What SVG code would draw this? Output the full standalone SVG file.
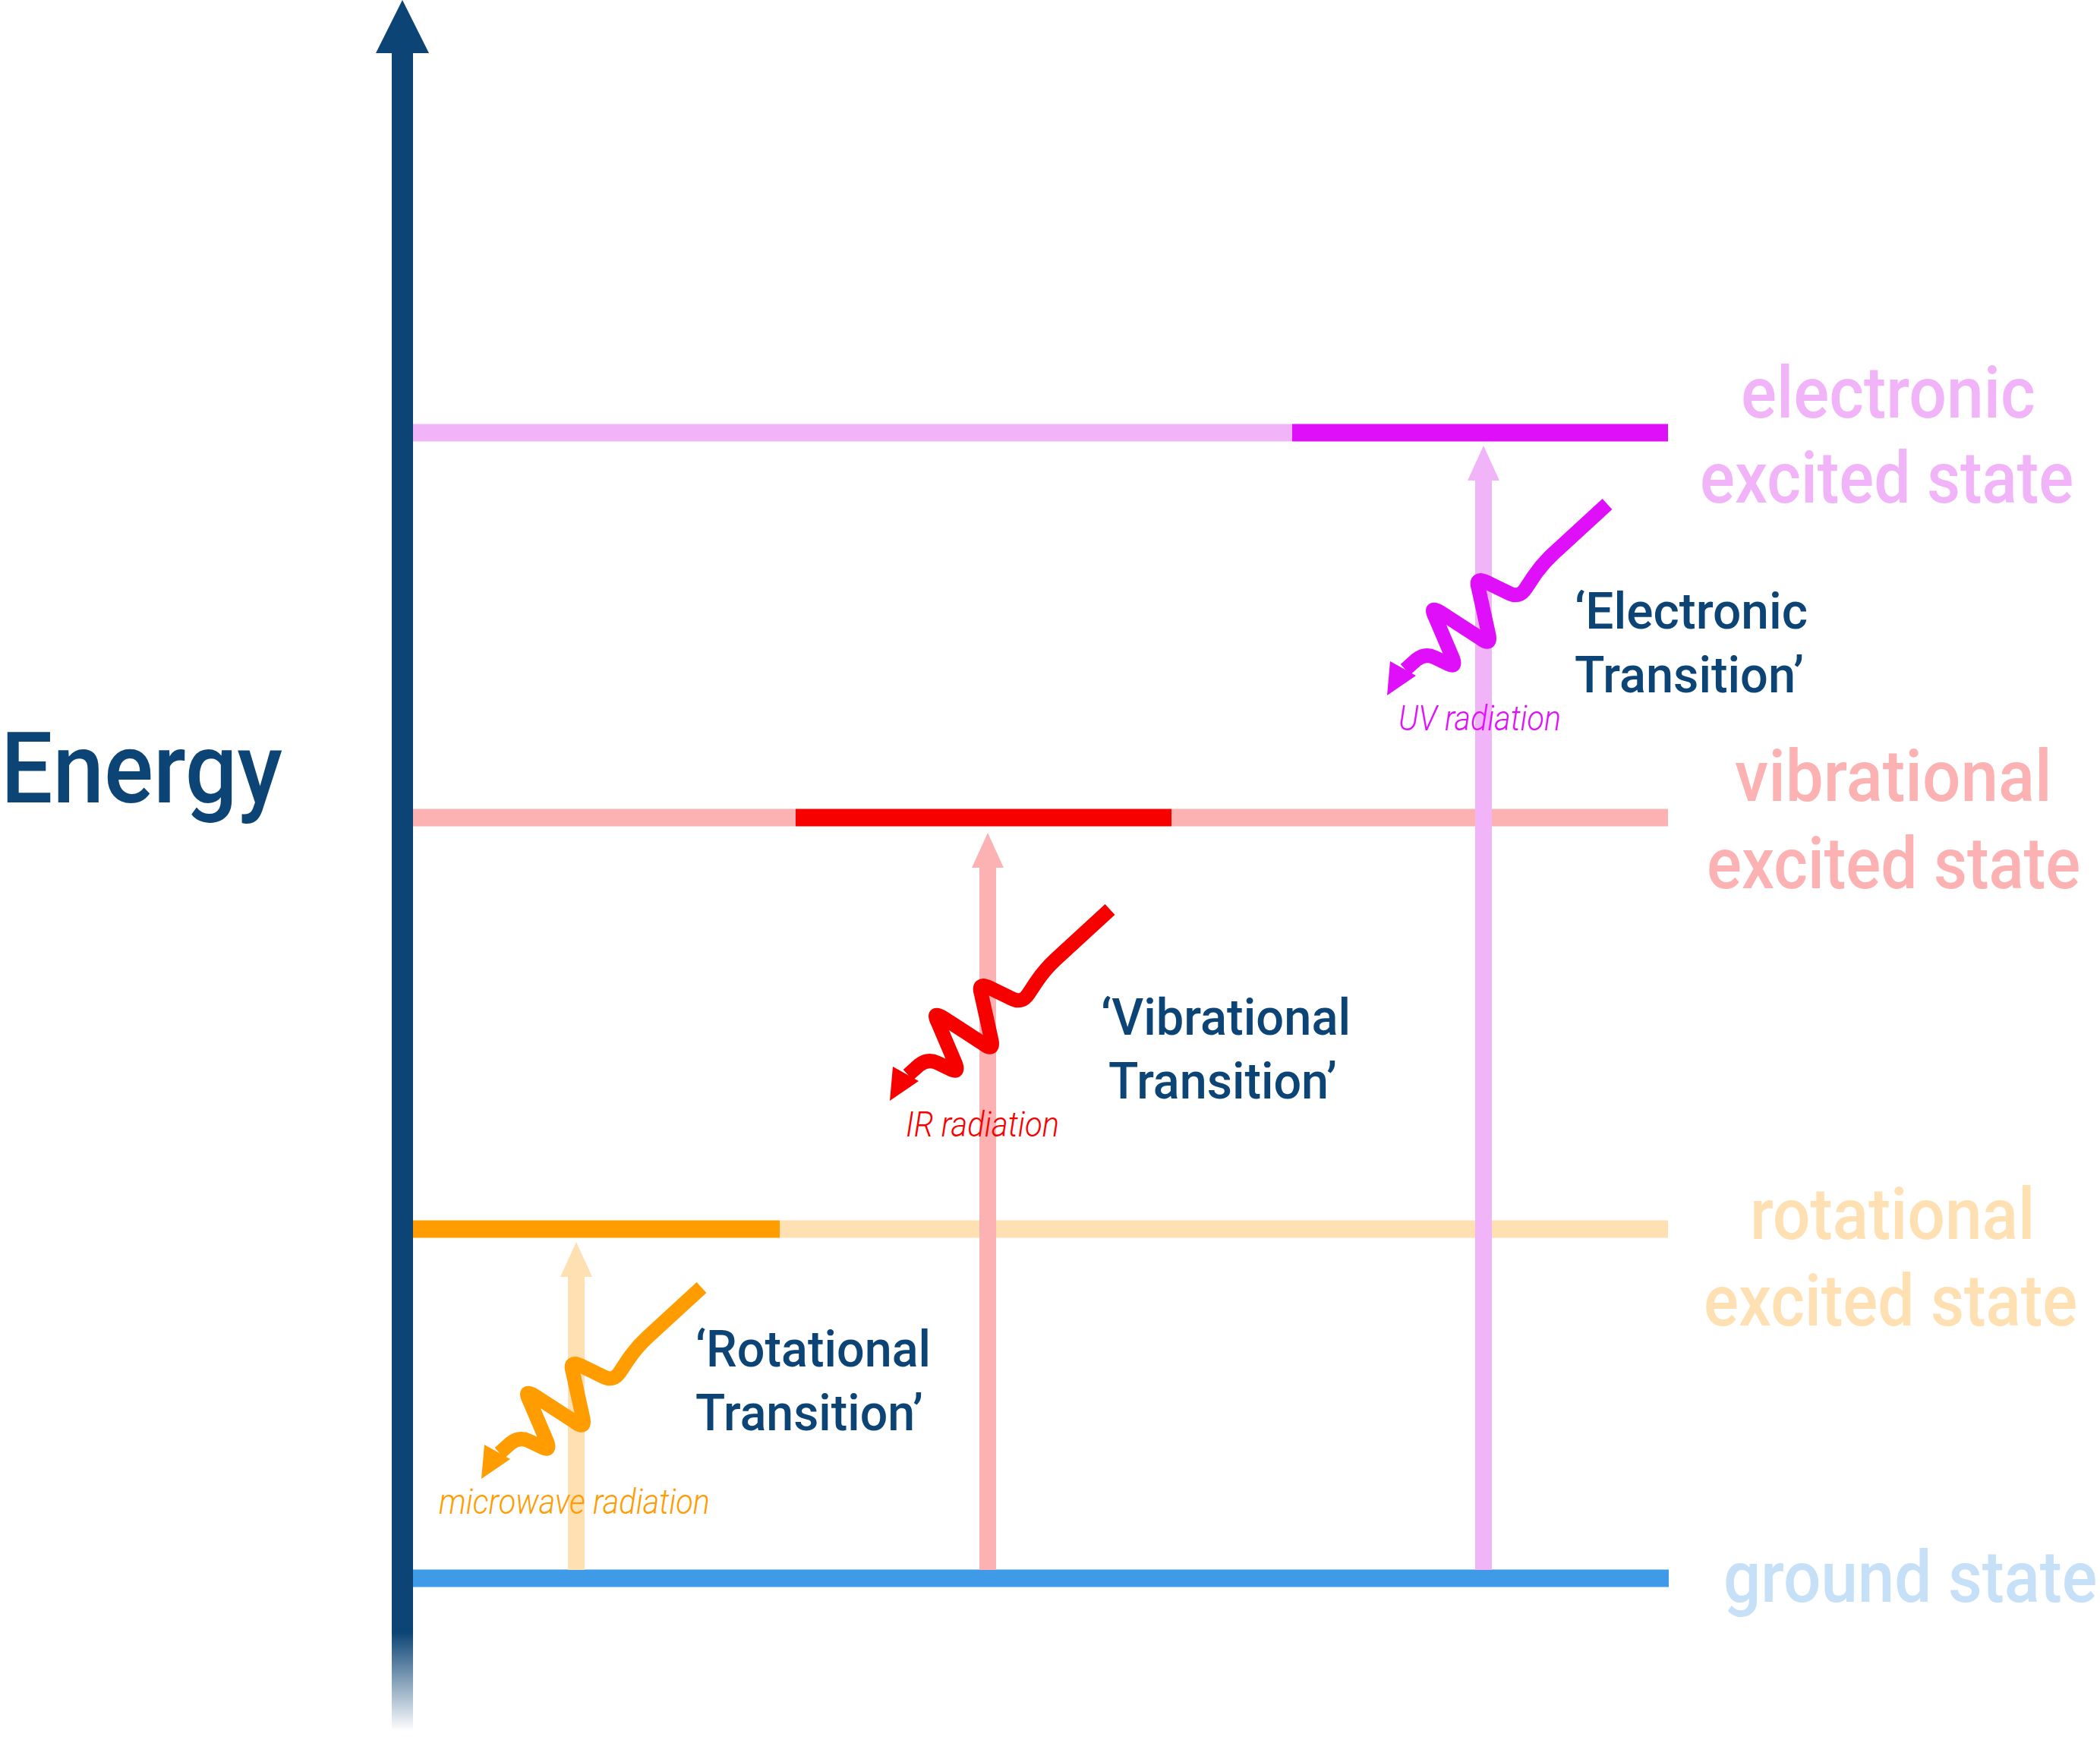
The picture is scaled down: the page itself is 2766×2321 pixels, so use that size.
<svg xmlns="http://www.w3.org/2000/svg" width="2766" height="2321" viewBox="0 0 2766 2321">
<style>
.f{font-family:Roboto,"DejaVu Sans",sans-serif}
.navy{fill:#0C4475;font-weight:500}
.lbl{font-size:66px}
.state{font-size:94px;font-weight:500}
.rad{font-size:47px;font-style:italic;font-weight:300}
.lv{stroke-width:23;fill:none}
</style>
<defs>
<linearGradient id="axisFade" gradientUnits="userSpaceOnUse" x1="0" y1="2150" x2="0" y2="2280">
<stop offset="0" stop-color="#0C4475"/>
<stop offset="1" stop-color="#0C4475" stop-opacity="0"/>
</linearGradient>
<g id="photon">
<path d="M0,0 L-71.3,65.5 Q-86,79 -97.1,95.6 L-107.1,110.7 Q-116,125 -130.4,116.9 L-158.6,103.1 Q-175,95 -169.5,111.6 L-156.5,170.4 Q-152,188 -166.4,177.3 L-219.6,142.7 Q-235,133 -226.7,148.7 L-204.3,201.3 Q-197,218 -212.4,209.1 L-227.4,202 Q-240,196 -251,204.7 L-266,218" fill="none" stroke="currentColor" stroke-width="19" stroke-linejoin="round"/>
<polygon points="-290,252 -286,207 -252,226" fill="currentColor"/>
</g>
</defs>
<rect width="2766" height="2321" fill="#FFFFFF"/>

<g id="levels">
<line class="lv" x1="530" y1="570" x2="1702" y2="570" stroke="#F2B4F8"/>
<line class="lv" x1="1702" y1="570" x2="2197" y2="570" stroke="#DF10F9"/>
<line class="lv" x1="530" y1="1077" x2="1048" y2="1077" stroke="#FCB2B2"/>
<line class="lv" x1="1048" y1="1077" x2="1543" y2="1077" stroke="#F70000"/>
<line class="lv" x1="1543" y1="1077" x2="2197" y2="1077" stroke="#FCB2B2"/>
<line class="lv" x1="530" y1="1619" x2="1027" y2="1619" stroke="#FF9C00"/>
<line class="lv" x1="1027" y1="1619" x2="2197" y2="1619" stroke="#FFE0B2"/>
<line class="lv" x1="530" y1="2079" x2="2198" y2="2079" stroke="#3F9BE8" stroke-width="24"/>
</g>

<g id="axis">
<rect x="516" y="70" width="28" height="2212" fill="url(#axisFade)"/>
<polygon points="530,0 495,70 565,70" fill="#0C4475"/>
<text class="f navy" x="1" y="1057" font-size="130" textLength="371" lengthAdjust="spacingAndGlyphs">Energy</text>
</g>

<g id="connectors">
<g id="rot-arrow" fill="#FFE0B2">
<rect x="748" y="1680" width="22" height="388"/>
<polygon points="759,1636 738,1682 780,1682"/>
</g>
<g id="vib-arrow" fill="#FCB2B2">
<rect x="1290" y="1141" width="22" height="927"/>
<polygon points="1301,1097 1280,1143 1322,1143"/>
</g>
<g id="ele-arrow" fill="#F2B4F8">
<rect x="1943" y="631" width="22" height="1437"/>
<polygon points="1954,587 1933,633 1975,633"/>
</g>
</g>

<g id="photons">
<use href="#photon" x="924" y="1696" color="#FF9C00"/>
<use href="#photon" x="1462" y="1198" color="#F70000"/>
<use href="#photon" x="2117" y="664" color="#DF10F9"/>
</g>

<g id="node-electronic">
<text class="f state" transform="translate(2293,550) scale(0.9,1)" fill="#F2B4F8" textLength="431" lengthAdjust="spacingAndGlyphs">electronic</text>
<text class="f state" transform="translate(2239,662) scale(0.9,1)" fill="#F2B4F8" textLength="547" lengthAdjust="spacingAndGlyphs">excited state</text>
<text class="f navy lbl" x="2074" y="828" textLength="307" lengthAdjust="spacingAndGlyphs">‘Electronic</text>
<text class="f navy lbl" x="2074" y="912" textLength="302" lengthAdjust="spacingAndGlyphs">Transition’</text>
<text class="f rad" x="1842" y="962" fill="#DF10F9" textLength="214" lengthAdjust="spacingAndGlyphs">UV radiation</text>
</g>

<g id="node-vibrational">
<text class="f state" transform="translate(2285,1055) scale(0.9,1)" fill="#FCB2B2" textLength="464" lengthAdjust="spacingAndGlyphs">vibrational</text>
<text class="f state" transform="translate(2248,1170) scale(0.9,1)" fill="#FCB2B2" textLength="547" lengthAdjust="spacingAndGlyphs">excited state</text>
<text class="f navy lbl" x="1450" y="1363" textLength="329" lengthAdjust="spacingAndGlyphs">‘Vibrational</text>
<text class="f navy lbl" x="1460" y="1447" textLength="301" lengthAdjust="spacingAndGlyphs">Transition’</text>
<text class="f rad" x="1193" y="1497" fill="#F70000" textLength="202" lengthAdjust="spacingAndGlyphs">IR radiation</text>
</g>

<g id="node-rotational">
<text class="f state" transform="translate(2305,1632) scale(0.9,1)" fill="#FFE0B2" textLength="417" lengthAdjust="spacingAndGlyphs">rotational</text>
<text class="f state" transform="translate(2244,1746) scale(0.9,1)" fill="#FFE0B2" textLength="547" lengthAdjust="spacingAndGlyphs">excited state</text>
<text class="f navy lbl" x="916" y="1800" textLength="310" lengthAdjust="spacingAndGlyphs">‘Rotational</text>
<text class="f navy lbl" x="916" y="1884" textLength="300" lengthAdjust="spacingAndGlyphs">Transition’</text>
<text class="f rad" x="578" y="1994" fill="#FF9C00" textLength="357" lengthAdjust="spacingAndGlyphs">microwave radiation</text>
</g>

<g id="node-ground">
<text class="f state" transform="translate(2270,2110) scale(0.9,1)" fill="#C5E0F7" textLength="547" lengthAdjust="spacingAndGlyphs">ground state</text>
</g>
</svg>
